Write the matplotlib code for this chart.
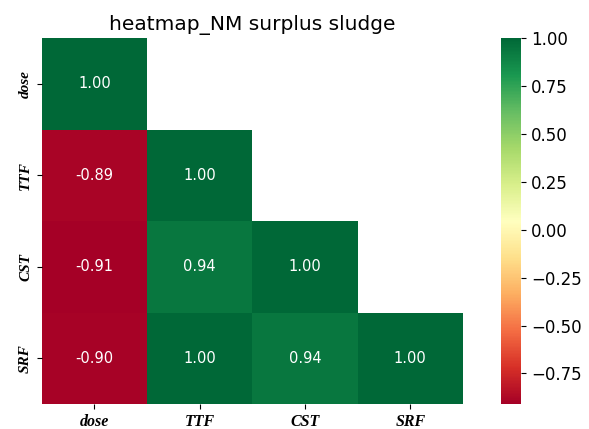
import matplotlib
matplotlib.use("Agg")
import matplotlib.pyplot as plt
import numpy as np
import seaborn as sns

labels = ["dose", "TTF", "CST", "SRF"]
corr = np.array([
    [1.00, -0.89, -0.91, -0.90],
    [-0.89, 1.00, 0.94, 1.00],
    [-0.91, 0.94, 1.00, 0.94],
    [-0.90, 1.00, 0.94, 1.00],
])

mask = np.triu(np.ones_like(corr, dtype=bool), k=1)

fig = plt.figure(figsize=(5.89, 4.29), dpi=100)
ax = fig.add_axes([0.071, 0.058, 0.715, 0.853])
cax = fig.add_axes([0.851, 0.058, 0.034, 0.853])

sns.heatmap(corr, mask=mask, cmap="RdYlGn", annot=True, fmt=".2f",
            vmin=corr.min(), vmax=1.0, ax=ax, cbar_ax=cax,
            annot_kws={"fontsize": 10.5})

ax.set_xticklabels(labels, fontfamily="Liberation Serif", fontstyle="italic",
                   fontweight="bold", fontsize=11.5, rotation=0)
ax.set_yticklabels(labels, fontfamily="Liberation Serif", fontstyle="italic",
                   fontweight="bold", fontsize=11, rotation=90, va="center")
ax.set_title("heatmap_NM surplus sludge", fontsize=14.5)
cax.tick_params(labelsize=12)

plt.savefig("out.png", dpi=100)
